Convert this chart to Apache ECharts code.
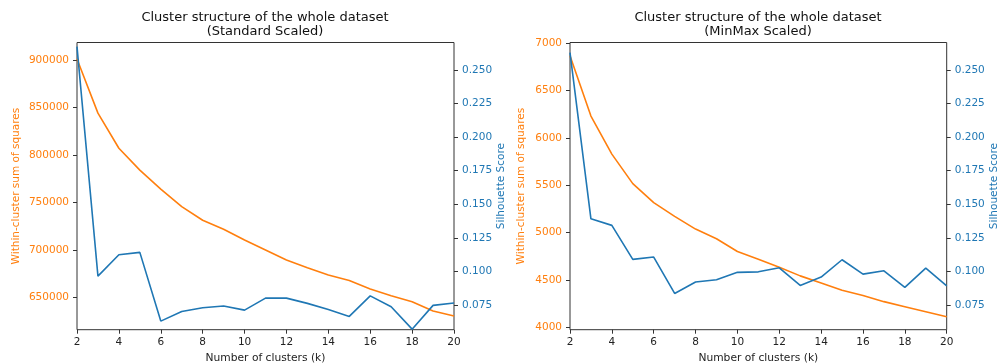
<!DOCTYPE html>
<html>
<head>
<meta charset="utf-8">
<script src="https://cdn.jsdelivr.net/npm/echarts@6/dist/echarts.min.js"></script>
<style>
  html, body { margin: 0; padding: 0; background: #fff; }
  #chart { width: 997px; height: 364px; }
</style>
</head>
<body>
<div id="chart"></div>
<script>
// Number of clusters tried
const clusterCounts = [2, 3, 4, 5, 6, 7, 8, 9, 10, 11, 12, 13, 14, 15, 16, 17, 18, 19, 20];

// Standard scaled data
const stdInertia = [901000, 844000, 807000, 784000, 764000, 745500, 731200, 721600, 710400, 699800,
                    689300, 681200, 673500, 667600, 658700, 651700, 645400, 635600, 630300];
const stdSilhouette = [0.2674, 0.0965, 0.1124, 0.1142, 0.0630, 0.0702, 0.0729, 0.0742, 0.0712, 0.0801,
                       0.0801, 0.0762, 0.0717, 0.0665, 0.0818, 0.0737, 0.0570, 0.0747, 0.0765];

// MinMax scaled data
const mmInertia = [6866, 6230, 5828, 5517, 5316, 5171, 5037, 4935, 4800, 4719,
                   4634, 4543, 4469, 4391, 4335, 4271, 4218, 4165, 4112];
const mmSilhouette = [0.2629, 0.1392, 0.1343, 0.1090, 0.1107, 0.0836, 0.0921, 0.0938, 0.0993, 0.0997,
                      0.1027, 0.0896, 0.0958, 0.1087, 0.0980, 0.1005, 0.0881, 0.1025, 0.0893];

// Tick values
const kTicks = [2, 4, 6, 8, 10, 12, 14, 16, 18, 20];
const stdInertiaTicks = [650000, 700000, 750000, 800000, 850000, 900000];
const mmInertiaTicks = [4000, 4500, 5000, 5500, 6000, 6500, 7000];
const silhouetteTicks = [0.075, 0.100, 0.125, 0.150, 0.175, 0.200, 0.225, 0.250];

const ORANGE = '#ff7f0e';
const BLUE = '#1f77b4';
const INK = '#222';
const FONT = 'DejaVu Sans';

const pairs = (ys) => clusterCounts.map((k, i) => [k, ys[i]]);

function xAxisFor(gridIndex) {
  return {
    type: 'value', gridIndex, min: 2, max: 20, interval: 2,
    name: 'Number of clusters (k)', nameLocation: 'middle', nameGap: 22,
    nameTextStyle: { color: INK, fontFamily: FONT, fontSize: 10.7 },
    axisLine: { show: false },
    axisTick: { show: true, length: 4, lineStyle: { color: '#333' }, customValues: kTicks },
    axisLabel: { color: INK, fontFamily: FONT, fontSize: 10.5, margin: 7, customValues: kTicks },
    splitLine: { show: false }
  };
}

function yAxisFor(opt) {
  return {
    type: 'value', gridIndex: opt.grid, position: opt.position,
    min: opt.min, max: opt.max,
    name: opt.name, nameLocation: 'middle', nameGap: opt.nameGap, nameRotate: 90,
    nameTextStyle: { color: opt.color, fontFamily: FONT, fontSize: 10.5 },
    axisLine: { show: false },
    axisTick: { show: true, length: 4, lineStyle: { color: '#333' }, customValues: opt.ticks },
    axisLabel: {
      color: opt.color, fontFamily: FONT, fontSize: 10.5, margin: 8,
      customValues: opt.ticks, formatter: opt.fmt
    },
    splitLine: { show: false }
  };
}

const intFmt = (v) => String(Math.round(v));
const silFmt = (v) => v.toFixed(3);

const titleStyle = { fontFamily: FONT, fontSize: 13, fontWeight: 'normal', color: '#111', lineHeight: 13.8 };

const gridBase = {
  top: 42.5, bottom: 34.3, show: true, borderColor: '#333', borderWidth: 1,
  backgroundColor: 'transparent', containLabel: false, outerBoundsMode: 'none'
};

const option = {
  animation: false,
  backgroundColor: '#fff',
  title: [
    {
      text: 'Cluster structure of the whole dataset\n(Standard Scaled)',
      left: 265, top: 11, textAlign: 'center', padding: 0, textStyle: titleStyle
    },
    {
      text: 'Cluster structure of the whole dataset\n(MinMax Scaled)',
      left: 758, top: 11, textAlign: 'center', padding: 0, textStyle: titleStyle
    }
  ],
  grid: [
    Object.assign({ left: 77, right: 543 }, gridBase),
    Object.assign({ left: 570, right: 50.3 }, gridBase)
  ],
  xAxis: [xAxisFor(0), xAxisFor(1)],
  yAxis: [
    yAxisFor({ grid: 0, position: 'left', min: 615866, max: 918436, name: 'Within-cluster sum of squares',
               nameGap: 55, color: ORANGE, ticks: stdInertiaTicks, fmt: intFmt }),
    yAxisFor({ grid: 0, position: 'right', min: 0.0566, max: 0.2705, name: 'Silhouette Score',
               nameGap: 41, color: BLUE, ticks: silhouetteTicks, fmt: silFmt }),
    yAxisFor({ grid: 1, position: 'left', min: 3975, max: 7006, name: 'Within-cluster sum of squares',
               nameGap: 43, color: ORANGE, ticks: mmInertiaTicks, fmt: intFmt }),
    yAxisFor({ grid: 1, position: 'right', min: 0.0566, max: 0.2705, name: 'Silhouette Score',
               nameGap: 42, color: BLUE, ticks: silhouetteTicks, fmt: silFmt })
  ],
  series: [
    { type: 'line', name: 'WCSS (Standard)', xAxisIndex: 0, yAxisIndex: 0, data: pairs(stdInertia),
      showSymbol: false, lineStyle: { color: ORANGE, width: 1.6 }, z: 3 },
    { type: 'line', name: 'Silhouette (Standard)', xAxisIndex: 0, yAxisIndex: 1, data: pairs(stdSilhouette),
      showSymbol: false, lineStyle: { color: BLUE, width: 1.6 }, z: 4 },
    { type: 'line', name: 'WCSS (MinMax)', xAxisIndex: 1, yAxisIndex: 2, data: pairs(mmInertia),
      showSymbol: false, lineStyle: { color: ORANGE, width: 1.6 }, z: 3 },
    { type: 'line', name: 'Silhouette (MinMax)', xAxisIndex: 1, yAxisIndex: 3, data: pairs(mmSilhouette),
      showSymbol: false, lineStyle: { color: BLUE, width: 1.6 }, z: 4 }
  ]
};

const chart = echarts.init(document.getElementById('chart'), null, { renderer: 'canvas' });
chart.setOption(option);
</script>
</body>
</html>
